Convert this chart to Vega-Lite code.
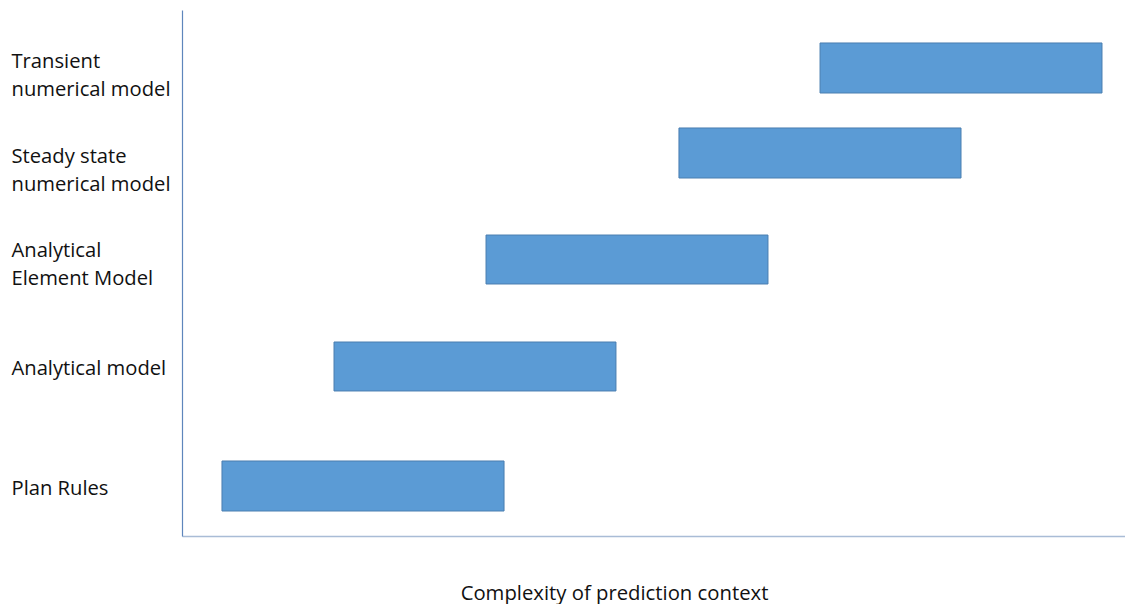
{
  "$schema": "https://vega.github.io/schema/vega-lite/v6.json",
  "autosize": {"type": "none"},
  "width": 943,
  "height": 526,
  "padding": {"left": 182, "top": 10, "right": 0, "bottom": 68},
  "background": "white",
  "config": {"view": {"stroke": null}, "font": "Open Sans"},
  "data": {
    "values": [
      {"model": "Transient numerical model", "start": 67.66, "end": 97.56, "low": 84.22, "high": 93.73},
      {"model": "Steady state numerical model", "start": 52.70, "end": 82.61, "low": 68.06, "high": 77.57},
      {"model": "Analytical Element Model", "start": 32.24, "end": 62.14, "low": 47.91, "high": 57.22},
      {"model": "Analytical model", "start": 16.12, "end": 46.02, "low": 27.57, "high": 36.88},
      {"model": "Plan Rules", "start": 4.24, "end": 34.15, "low": 4.75, "high": 14.26}
    ]
  },
  "mark": {"type": "rect", "fill": "#5B9BD5", "stroke": "#4A7EB0", "strokeWidth": 1},
  "encoding": {
    "x": {
      "field": "start", "type": "quantitative",
      "scale": {"domain": [0, 100], "nice": false, "zero": false},
      "axis": {
        "title": "Complexity of prediction context",
        "titleFont": "Open Sans", "titleFontSize": 20.3, "titleFontWeight": "normal", "titleColor": "#111",
        "titleX": 432, "titleY": 57, "titleBaseline": "middle", "titleAnchor": "middle", "titleAlign": "center",
        "labels": false, "ticks": false, "grid": false,
        "domainColor": "#A9BCD6", "domainWidth": 1.5
      }
    },
    "x2": {"field": "end"},
    "y": {
      "field": "low", "type": "quantitative",
      "scale": {"domain": [0, 100], "nice": false, "zero": false},
      "axis": {
        "title": null, "ticks": false, "grid": false,
        "values": [90.30, 72.24, 54.37, 31.75, 8.94],
        "labelExpr": "datum.value > 80 ? ['Transient', 'numerical model'] : datum.value > 60 ? ['Steady state', 'numerical model'] : datum.value > 40 ? ['Analytical', 'Element Model'] : datum.value > 20 ? 'Analytical model' : 'Plan Rules'",
        "labelAlign": "left", "labelBaseline": "middle", "labelPadding": 171,
        "labelFont": "Open Sans", "labelFontSize": 20.2, "labelColor": "#111", "labelLineHeight": 28,
        "labelOverlap": false, "labelBound": false, "labelFlush": false,
        "domainColor": "#5E86BC", "domainWidth": 1.2
      }
    },
    "y2": {"field": "high"}
  }
}
